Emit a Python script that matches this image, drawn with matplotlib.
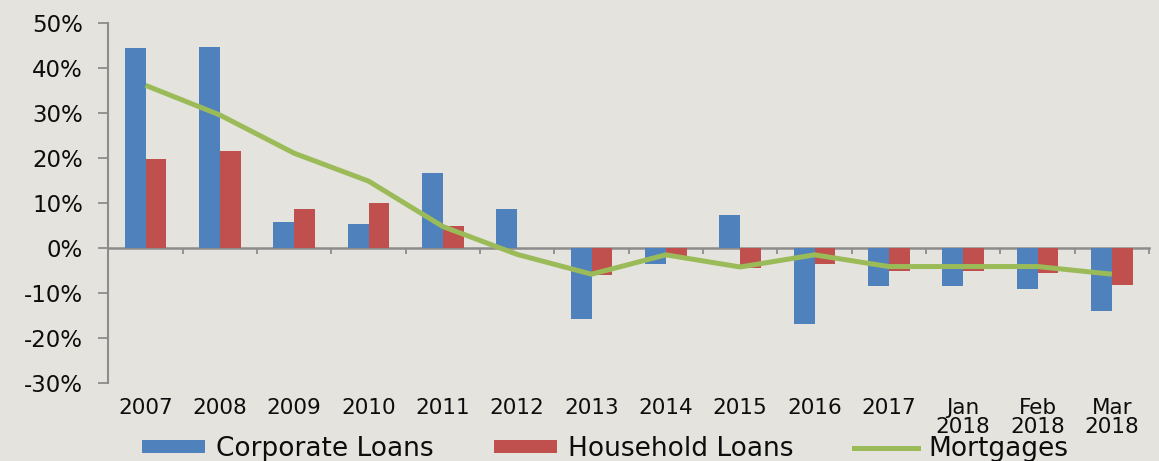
import matplotlib
matplotlib.use("Agg")
import matplotlib.pyplot as plt
from matplotlib.patches import Patch
from matplotlib.lines import Line2D
from matplotlib.ticker import PercentFormatter, FixedLocator
import numpy as np

categories = ["2007", "2008", "2009", "2010", "2011", "2012", "2013", "2014",
              "2015", "2016", "2017", "Jan\n2018", "Feb\n2018", "Mar\n2018"]
corporate = [44.4, 44.8, 5.8, 5.4, 16.8, 8.8, -15.7, -3.6, 7.3, -16.8, -8.5, -8.5, -9.0, -13.9]
household = [19.8, 21.6, 8.8, 10.0, 4.9, 0.0, -5.9, -2.0, -4.5, -3.6, -5.2, -5.2, -5.6, -8.2]
mortgages = [36.2, 29.6, 21.1, 14.9, 4.8, -1.4, -5.8, -1.5, -4.2, -1.5, -4.1, -4.1, -4.1, -5.8]

BG = "#e4e3de"
BLUE = "#4f81bd"
RED = "#c0504d"
GREEN = "#9bbb59"
AXIS = "#8c8c8c"
TXT = "#0d0d0d"

plt.rcParams["font.family"] = ["DejaVu Sans"]
plt.rcParams["axes.unicode_minus"] = False

fig = plt.figure(figsize=(11.59, 4.61), dpi=100, facecolor=BG)
ax = fig.add_axes([0.0935, 0.1692, 0.8979, 0.7803])
ax.set_facecolor(BG)

x = np.arange(len(categories))
w = 0.28
ax.bar(x - w / 2, corporate, width=w, color=BLUE, linewidth=0, zorder=2)
ax.bar(x + w / 2, household, width=w, color=RED, linewidth=0, zorder=2)
ax.plot(x, mortgages, color=GREEN, linewidth=3.6, zorder=3, solid_capstyle="butt",
        solid_joinstyle="round")

ax.set_xlim(-0.5, len(categories) - 0.5)
ax.set_ylim(-30, 50)
ax.set_yticks(np.arange(-30, 51, 10))
ax.yaxis.set_major_formatter(PercentFormatter(decimals=0))
ax.tick_params(axis="y", direction="out", length=7.2, width=1.3, color=AXIS,
               labelsize=16.5, pad=11, labelcolor=TXT)

for s in ["top", "right"]:
    ax.spines[s].set_visible(False)
ax.spines["left"].set_color(AXIS)
ax.spines["left"].set_linewidth(1.5)
ax.spines["bottom"].set_position(("data", 0))
ax.spines["bottom"].set_color(AXIS)
ax.spines["bottom"].set_linewidth(1.8)
ax.spines["bottom"].set_zorder(1)
ax.xaxis.set_major_locator(FixedLocator(np.arange(0.5, len(categories), 1.0)))
ax.tick_params(axis="x", direction="out", length=4, width=1.3, color=AXIS, labelbottom=False)

sec = ax.secondary_xaxis("bottom")
sec.set_xticks(x)
sec.set_xticklabels(categories, linespacing=0.95)
sec.tick_params(axis="x", length=0, pad=11, labelsize=15.5, labelcolor=TXT)
sec.spines["bottom"].set_visible(False)

handles = [Patch(facecolor=BLUE, edgecolor="none"),
           Patch(facecolor=RED, edgecolor="none"),
           Line2D([0], [0], color=GREEN, linewidth=3.6)]
labels = ["Corporate Loans", "Household Loans", "Mortgages"]
leg = fig.legend(handles, labels, loc="center", bbox_to_anchor=(0.522, 0.026), ncol=3,
                 frameon=False, fontsize=19, handlelength=2.4, handleheight=0.4,
                 handletextpad=0.4, columnspacing=2.3, borderaxespad=0, borderpad=0)
for t in leg.get_texts():
    t.set_color(TXT)

fig.savefig("out.png", dpi=100, facecolor=BG)
